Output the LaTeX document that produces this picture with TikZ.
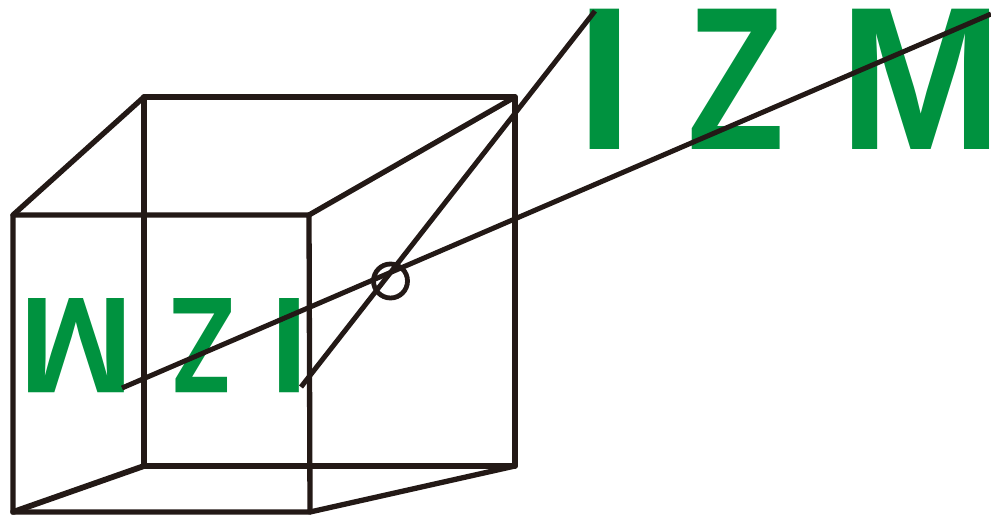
\documentclass[tikz,border=0pt]{standalone}
\usepackage{fontspec}
\setmainfont{Liberation Sans}
\definecolor{izmgreen}{RGB}{0,146,63}
\definecolor{ink}{RGB}{35,25,22}
\newcommand{\bigletter}[1]{\fontsize{204}{204}\selectfont\bfseries #1}
\newcommand{\smallletter}[1]{\fontsize{137}{137}\selectfont\bfseries #1}
\tikzset{
  edge/.style={draw=ink,line width=5.3pt,line cap=round,line join=round},
  backedge/.style={draw=ink,line width=5.8pt,line cap=round,line join=round},
  ray/.style={draw=ink,line width=5pt},
  letter/.style={text=izmgreen,inner sep=0pt,outer sep=0pt}
}
\begin{document}
\begin{tikzpicture}[x=1pt,y=-1pt]
\useasboundingbox (0,0) rectangle (991,518);
% letters
\node[letter] (bigI) at (605,79) {\bigletter{I}};
\node[letter,xscale=0.78,transform shape] (bigZ) at (736,79) {\bigletter{Z}};
\node[letter,xscale=0.96,transform shape] (bigM) at (921,79) {\bigletter{M}};
\node[letter,rotate=180] (smallM) at (76.5,345.5) {\smallletter{M}};
\node[letter,rotate=180,xscale=0.76,transform shape] (smallZ) at (202.5,345.5) {\smallletter{Z}};
\node[letter,rotate=180] (smallI) at (289.5,345.5) {\smallletter{I}};
% cube
\coordinate (a) at (13,215);
\coordinate (b) at (309,215);
\coordinate (c) at (310,512);
\coordinate (d) at (13,512);
\coordinate (e) at (144,97);
\coordinate (f) at (515,97);
\coordinate (g) at (515,466);
\coordinate (h) at (144,466);
\draw[backedge] (e) -- (f) -- (g) -- (h) -- cycle;
\draw[edge] (a) -- (b) -- (c) -- (d) -- cycle;
\draw[edge] (a) -- (e);
\draw[edge] (b) -- (f);
\draw[edge] (c) -- (g);
\draw[backedge] (d) -- (h);
% rays
\coordinate (r1a) at (122,388);
\coordinate (r1b) at (991,14);
\coordinate (r2a) at (301,387);
\coordinate (r2b) at (595,11);
\draw[ray] (r1a) -- (r1b);
\draw[ray] (r2a) -- (r2b);
\node[circle,draw=ink,line width=4.8pt,minimum size=34pt,inner sep=0pt] (pin) at (390.5,281) {};
\end{tikzpicture}
\end{document}
